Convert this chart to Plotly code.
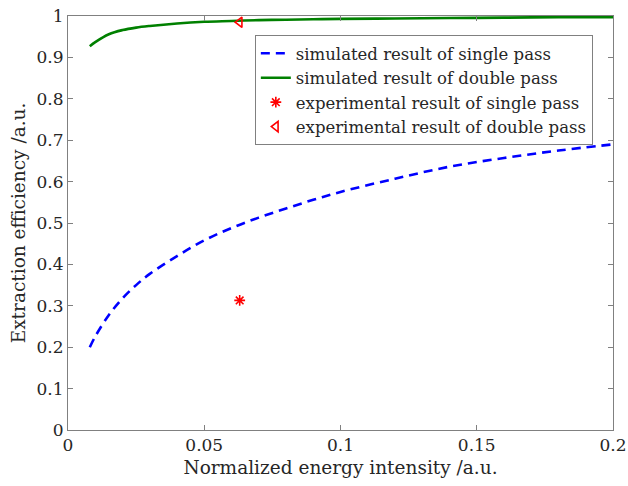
import plotly.graph_objects as go

# Simulated curves
x_sim = [0.008, 0.01, 0.015, 0.02, 0.025, 0.03, 0.04, 0.05, 0.06, 0.07,
         0.08, 0.09, 0.1, 0.12, 0.14, 0.16, 0.18, 0.2]
single_sim = [0.200, 0.226, 0.278, 0.318, 0.350, 0.377, 0.420, 0.458, 0.488, 0.513,
              0.535, 0.556, 0.575, 0.607, 0.636, 0.657, 0.675, 0.690]
double_sim = [0.927, 0.937, 0.956, 0.966, 0.972, 0.976, 0.982, 0.986, 0.988, 0.990,
              0.991, 0.992, 0.993, 0.994, 0.995, 0.996, 0.997, 0.997]

# Experimental points
x_exp = [0.063]
single_exp = [0.313]
double_exp = [0.985]

x_ticks = [0, 0.05, 0.1, 0.15, 0.2]
x_tick_labels = ["0", "0.05", "0.1", "0.15", "0.2"]
y_ticks = [0, 0.1, 0.2, 0.3, 0.4, 0.5, 0.6, 0.7, 0.8, 0.9, 1]
y_tick_labels = ["0", "0.1", "0.2", "0.3", "0.4", "0.5", "0.6", "0.7", "0.8", "0.9", "1"]

FONT = "DejaVu Serif"
AX = "#808080"

fig = go.Figure()
fig.add_trace(go.Scatter(x=x_sim, y=single_sim, mode="lines",
                         line=dict(color="#0000ff", width=2.6, dash="9px,6px", shape="spline"),
                         name="simulated result of single pass"))
fig.add_trace(go.Scatter(x=x_sim, y=double_sim, mode="lines",
                         line=dict(color="#008000", width=2.6, shape="spline"),
                         name="simulated result of double pass"))
fig.add_trace(go.Scatter(x=x_exp, y=single_exp, mode="markers",
                         marker=dict(symbol="asterisk-open", size=9, color="#ff0000",
                                     line=dict(color="#ff0000", width=1.6)),
                         name="experimental result of single pass"))
fig.add_trace(go.Scatter(x=x_exp, y=double_exp, mode="markers",
                         marker=dict(symbol="triangle-left-open", size=9, color="#ff0000",
                                     line=dict(color="#ff0000", width=1.6)),
                         name="experimental result of double pass"))

axis_common = dict(showgrid=False, zeroline=False, showline=True, linecolor=AX, linewidth=1,
                   mirror="ticks", ticks="inside", ticklen=5, tickcolor=AX, tickwidth=1,
                   automargin=False,
                   tickfont=dict(family=FONT, size=17, color="#262626"))

fig.update_layout(
    width=628, height=486,
    margin=dict(l=68, r=15, t=16, b=56, autoexpand=False),
    paper_bgcolor="white", plot_bgcolor="white",
    font=dict(family=FONT, color="#262626"),
    xaxis=dict(range=[0, 0.2], tickvals=x_ticks, ticktext=x_tick_labels,
               title=dict(text="Normalized energy intensity /a.u.", font=dict(family=FONT, size=18.5),
                          standoff=6),
               **axis_common),
    yaxis=dict(range=[0, 1], tickvals=y_ticks, ticktext=y_tick_labels,
               title=dict(text="Extraction efficiency /a.u.", font=dict(family=FONT, size=18.5),
                          standoff=6),
               **axis_common),
    legend=dict(x=0.963, y=0.954, xanchor="right", yanchor="top",
                bgcolor="white", bordercolor=AX, borderwidth=1,
                font=dict(family=FONT, size=16.5, color="#262626"),
                itemwidth=30, tracegroupgap=0),
    showlegend=True,
)

fig.write_html("out.html", config={"displayModeBar": False},
               post_script="document.body.style.margin='0';document.body.style.overflow='hidden';")
